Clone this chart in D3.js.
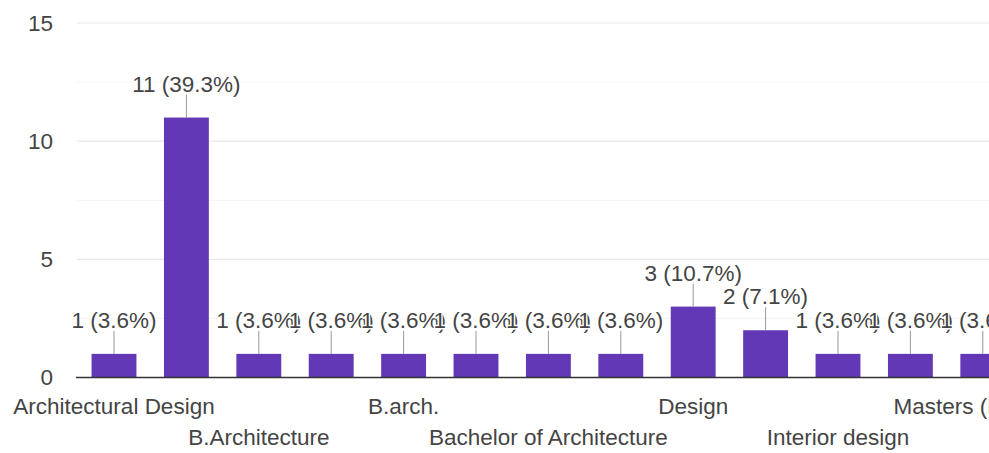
<!DOCTYPE html>
<html>
<head>
<meta charset="utf-8">
<script src="https://cdn.jsdelivr.net/npm/d3@7"></script>
<style>
  html, body { margin: 0; padding: 0; background: #fff; }
  svg { display: block; }
  text { font-family: "Liberation Sans", Arial, sans-serif; }
</style>
</head>
<body>
<div id="chart"></div>
<script>
// Categories (even-index labels are the ones displayed in the reference; odd-index names are hidden by label skipping)
const categories = [
  "Architectural Design",
  "Architecture",
  "B.Architecture",
  "B.Arch",
  "B.arch.",
  "Bachelor in Architecture",
  "Bachelor of Architecture",
  "Bachelors of Architecture",
  "Design",
  "Graphic design",
  "Interior design",
  "Landscape Architecture",
  "Masters (M.Arch.)"
];
const counts = [1, 11, 1, 1, 1, 1, 1, 1, 3, 2, 1, 1, 1];
const percents = ["3.6%", "39.3%", "3.6%", "3.6%", "3.6%", "3.6%", "3.6%", "3.6%", "10.7%", "7.1%", "3.6%", "3.6%", "3.6%"];
const majorTicks = [0, 5, 10, 15];
const minorTicks = [2.5, 7.5, 12.5];

const W = 989, H = 453;
const FS = 22.5;
const svg = d3.select("#chart").append("svg").attr("width", W).attr("height", H);

const plotLeft = 77.8;
const step = 72.4;
const x = d3.scaleBand()
  .domain(categories)
  .range([plotLeft, plotLeft + categories.length * step])
  .paddingInner(0.38)
  .paddingOuter(0.19);

const y = d3.scaleLinear().domain([0, 15]).range([377.5, 23]);

// minor gridlines
svg.append("g").selectAll("line").data(minorTicks).join("line")
  .attr("x1", 77).attr("x2", W)
  .attr("y1", d => y(d)).attr("y2", d => y(d))
  .attr("stroke", "#f4f4f4").attr("stroke-width", 1);

// major gridlines
svg.append("g").selectAll("line").data(majorTicks.filter(d => d !== 0)).join("line")
  .attr("x1", 77).attr("x2", W)
  .attr("y1", d => y(d)).attr("y2", d => y(d))
  .attr("stroke", "#e8e8e8").attr("stroke-width", 1.2);

// y axis labels
const yAxis = d3.axisLeft(y).tickValues(majorTicks).tickSize(0).tickPadding(0).tickFormat(d3.format("d"));
const yg = svg.append("g").attr("transform", "translate(53,0)").call(yAxis);
yg.select(".domain").remove();
yg.selectAll("text")
  .attr("font-size", FS)
  .attr("fill", "#444")
  .attr("font-family", "Liberation Sans, Arial, sans-serif");

// bars
svg.append("g").selectAll("rect").data(categories).join("rect")
  .attr("x", d => x(d))
  .attr("width", x.bandwidth())
  .attr("y", (d, i) => y(counts[i]))
  .attr("height", (d, i) => y(0) - y(counts[i]))
  .attr("fill", "#6338b7");

// baseline
svg.append("line")
  .attr("x1", 76).attr("x2", W)
  .attr("y1", y(0)).attr("y2", y(0))
  .attr("stroke", "#333").attr("stroke-width", 1.6);

// value annotations
const ann = svg.append("g");
categories.forEach((c, i) => {
  const cx = x(c) + x.bandwidth() / 2;
  const top = y(counts[i]);
  ann.append("line")
    .attr("x1", cx).attr("x2", cx)
    .attr("y1", top).attr("y2", top - 23)
    .attr("stroke", "#999").attr("stroke-width", 1);
  ann.append("text")
    .attr("x", cx).attr("y", top - 26)
    .attr("text-anchor", "middle")
    .attr("font-size", FS)
    .attr("fill", "#444")
    .attr("stroke", "#fff").attr("stroke-width", 3)
    .attr("paint-order", "stroke")
    .attr("stroke-linejoin", "round")
    .text(`${counts[i]} (${percents[i]})`);
});

// x labels: every other category, staggered on two rows
const xl = svg.append("g");
categories.forEach((c, i) => {
  if (i % 2 !== 0) return;
  const row = (i / 2) % 2;
  xl.append("text")
    .attr("x", x(c) + x.bandwidth() / 2)
    .attr("y", row === 0 ? 414 : 445)
    .attr("text-anchor", "middle")
    .attr("font-size", FS)
    .attr("fill", "#444")
    .text(c);
});
</script>
</body>
</html>
